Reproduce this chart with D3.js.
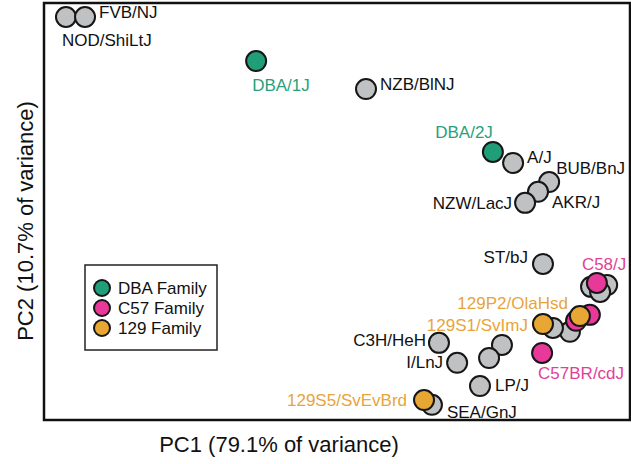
<!DOCTYPE html>
<html>
<head>
<meta charset="utf-8">
<script src="https://cdn.jsdelivr.net/npm/d3@7"></script>
<style>
  body { margin: 0; background: #fff; }
  text { font-family: Arial, "Liberation Sans", Arimo, Helvetica, sans-serif; }
</style>
</head>
<body>
<svg id="pca" width="631" height="464"></svg>
<script>
// strains, PC scores, family group
const strains = ['NOD/ShiLtJ', 'FVB/NJ', 'NZB/BlNJ', 'A/J', 'BUB/BnJ', 'AKR/J', 'NZW/LacJ', 'ST/bJ',
  'C58-a', 'C58-b', 'C58-c', 'C57-x', 'C57-y', 'C3H/HeH', 'I/LnJ', 'grey-a', 'grey-b', 'LP/J', 'SEA/GnJ',
  'C58/J', 'C57-p', 'C57-q', 'C57BR/cdJ', 'DBA/1J', 'DBA/2J', '129P2/OlaHsd', '129S1/SvImJ', '129S5/SvEvBrd'];
const pc1 = [-9.25, -8.60, 0.99, 6.01, 7.24, 6.86, 6.42, 7.03,
  8.67, 9.22, 8.98, 7.95, 7.37, 3.48, 4.10, 5.63, 5.19, 4.88, 3.24,
  8.87, 8.63, 8.16, 7.00, -2.76, 5.32, 8.29, 7.03, 2.97];
const pc2 = [6.53, 6.53, 4.11, 1.63, 0.99, 0.66, 0.29, -1.76,
  -2.53, -2.47, -2.70, -4.04, -3.91, -4.41, -5.08, -4.48, -4.92, -5.86, -6.49,
  -2.40, -3.47, -3.67, -4.75, 5.05, 2.00, -3.51, -3.78, -6.33];
const family = ['other', 'other', 'other', 'other', 'other', 'other', 'other', 'other',
  'other', 'other', 'other', 'other', 'other', 'other', 'other', 'other', 'other', 'other', 'other',
  'C57', 'C57', 'C57', 'C57', 'DBA', 'DBA', '129', '129', '129'];

const legendKeys = ['DBA', 'C57', '129'];
const legendLabels = ['DBA Family', 'C57 Family', '129 Family'];
const xTitle = 'PC1 (79.1% of variance)';
const yTitle = 'PC2 (10.7% of variance)';

const fillColor = { other: '#c0c1c3', DBA: '#1f9e78', C57: '#e8399a', '129': '#e8a632' };
const textColor = { other: '#111', DBA: '#2b9f7b', C57: '#e23f97', '129': '#e8a43c' };

// where each label sits relative to its dot [dx, dy, anchor]
const labelPos = {
  'NOD/ShiLtJ': [-4, 23, 'start'], 'FVB/NJ': [14, -5, 'start'], 'NZB/BlNJ': [14, -5, 'start'],
  'A/J': [14, -6, 'start'], 'BUB/BnJ': [7, -14, 'start'], 'AKR/J': [14, 10, 'start'],
  'NZW/LacJ': [-13, 0, 'end'], 'ST/bJ': [-15, -7, 'end'], 'C3H/HeH': [-13, -3, 'end'],
  'I/LnJ': [-14, -1, 'end'], 'LP/J': [15, -1, 'start'], 'SEA/GnJ': [15, 7, 'start'],
  'C58/J': [-15, -19, 'start'], 'C57BR/cdJ': [-4, 20, 'start'], 'DBA/1J': [-4, 24, 'start'],
  'DBA/2J': [0, -20, 'end'], '129P2/OlaHsd': [-12, -13, 'end'], '129S1/SvImJ': [-15, 1, 'end'],
  '129S5/SvEvBrd': [-17, 0, 'end']
};

const margin = { top: 3, right: 1, bottom: 44, left: 44 };
const width = 631 - margin.left - margin.right;
const height = 464 - margin.top - margin.bottom;

const svg = d3.select('#pca');
const g = svg.append('g')
  .attr('transform', `translate(${margin.left},${margin.top})`);

const x = d3.scaleLinear().domain([-10, 10]).range([0, width]);
const y = d3.scaleLinear().domain([-7, 7]).range([height, 0]);

const data = strains.map((s, i) => ({ name: s, x: pc1[i], y: pc2[i], fam: family[i] }));

// frame
g.append('rect')
  .attr('x', 0).attr('y', 0)
  .attr('width', width).attr('height', height)
  .attr('fill', 'none')
  .attr('stroke', '#111')
  .attr('stroke-width', 2.5);

const order = { other: 0, C57: 1, '129': 2, DBA: 3 };
const sorted = data.slice().sort((a, b) => order[a.fam] - order[b.fam]);

g.selectAll('.dot')
  .data(sorted)
  .enter()
  .append('circle')
  .attr('class', 'dot')
  .attr('cx', d => x(d.x))
  .attr('cy', d => y(d.y))
  .attr('r', 10)
  .attr('fill', d => fillColor[d.fam])
  .attr('stroke', '#161616')
  .attr('stroke-width', 2);

g.selectAll('.lbl')
  .data(data.filter(d => labelPos[d.name]))
  .enter()
  .append('text')
  .attr('class', 'lbl')
  .attr('x', d => x(d.x) + labelPos[d.name][0])
  .attr('y', d => y(d.y) + labelPos[d.name][1] + 6)
  .attr('text-anchor', d => labelPos[d.name][2])
  .attr('font-size', 17)
  .attr('fill', d => textColor[d.fam])
  .text(d => d.name);

// legend
const legend = g.append('g').attr('transform', 'translate(41,262)');
legend.append('rect')
  .attr('width', 132).attr('height', 85)
  .attr('fill', '#fff')
  .attr('stroke', '#222')
  .attr('stroke-width', 1.5);
legendKeys.forEach((k, i) => {
  legend.append('circle')
    .attr('cx', 17).attr('cy', 23 + i * 20)
    .attr('r', 8)
    .attr('fill', fillColor[k])
    .attr('stroke', '#161616')
    .attr('stroke-width', 2);
  legend.append('text')
    .attr('x', 33).attr('y', 29 + i * 20)
    .attr('font-size', 17)
    .attr('fill', '#111')
    .text(legendLabels[i]);
});

// axis titles
svg.append('text')
  .attr('x', 279)
  .attr('y', 452)
  .attr('text-anchor', 'middle')
  .attr('font-size', 22)
  .attr('fill', '#111')
  .text(xTitle);

svg.append('text')
  .attr('transform', 'translate(33,221) rotate(-90)')
  .attr('text-anchor', 'middle')
  .attr('font-size', 22)
  .attr('fill', '#111')
  .text(yTitle);
</script>
</body>
</html>
